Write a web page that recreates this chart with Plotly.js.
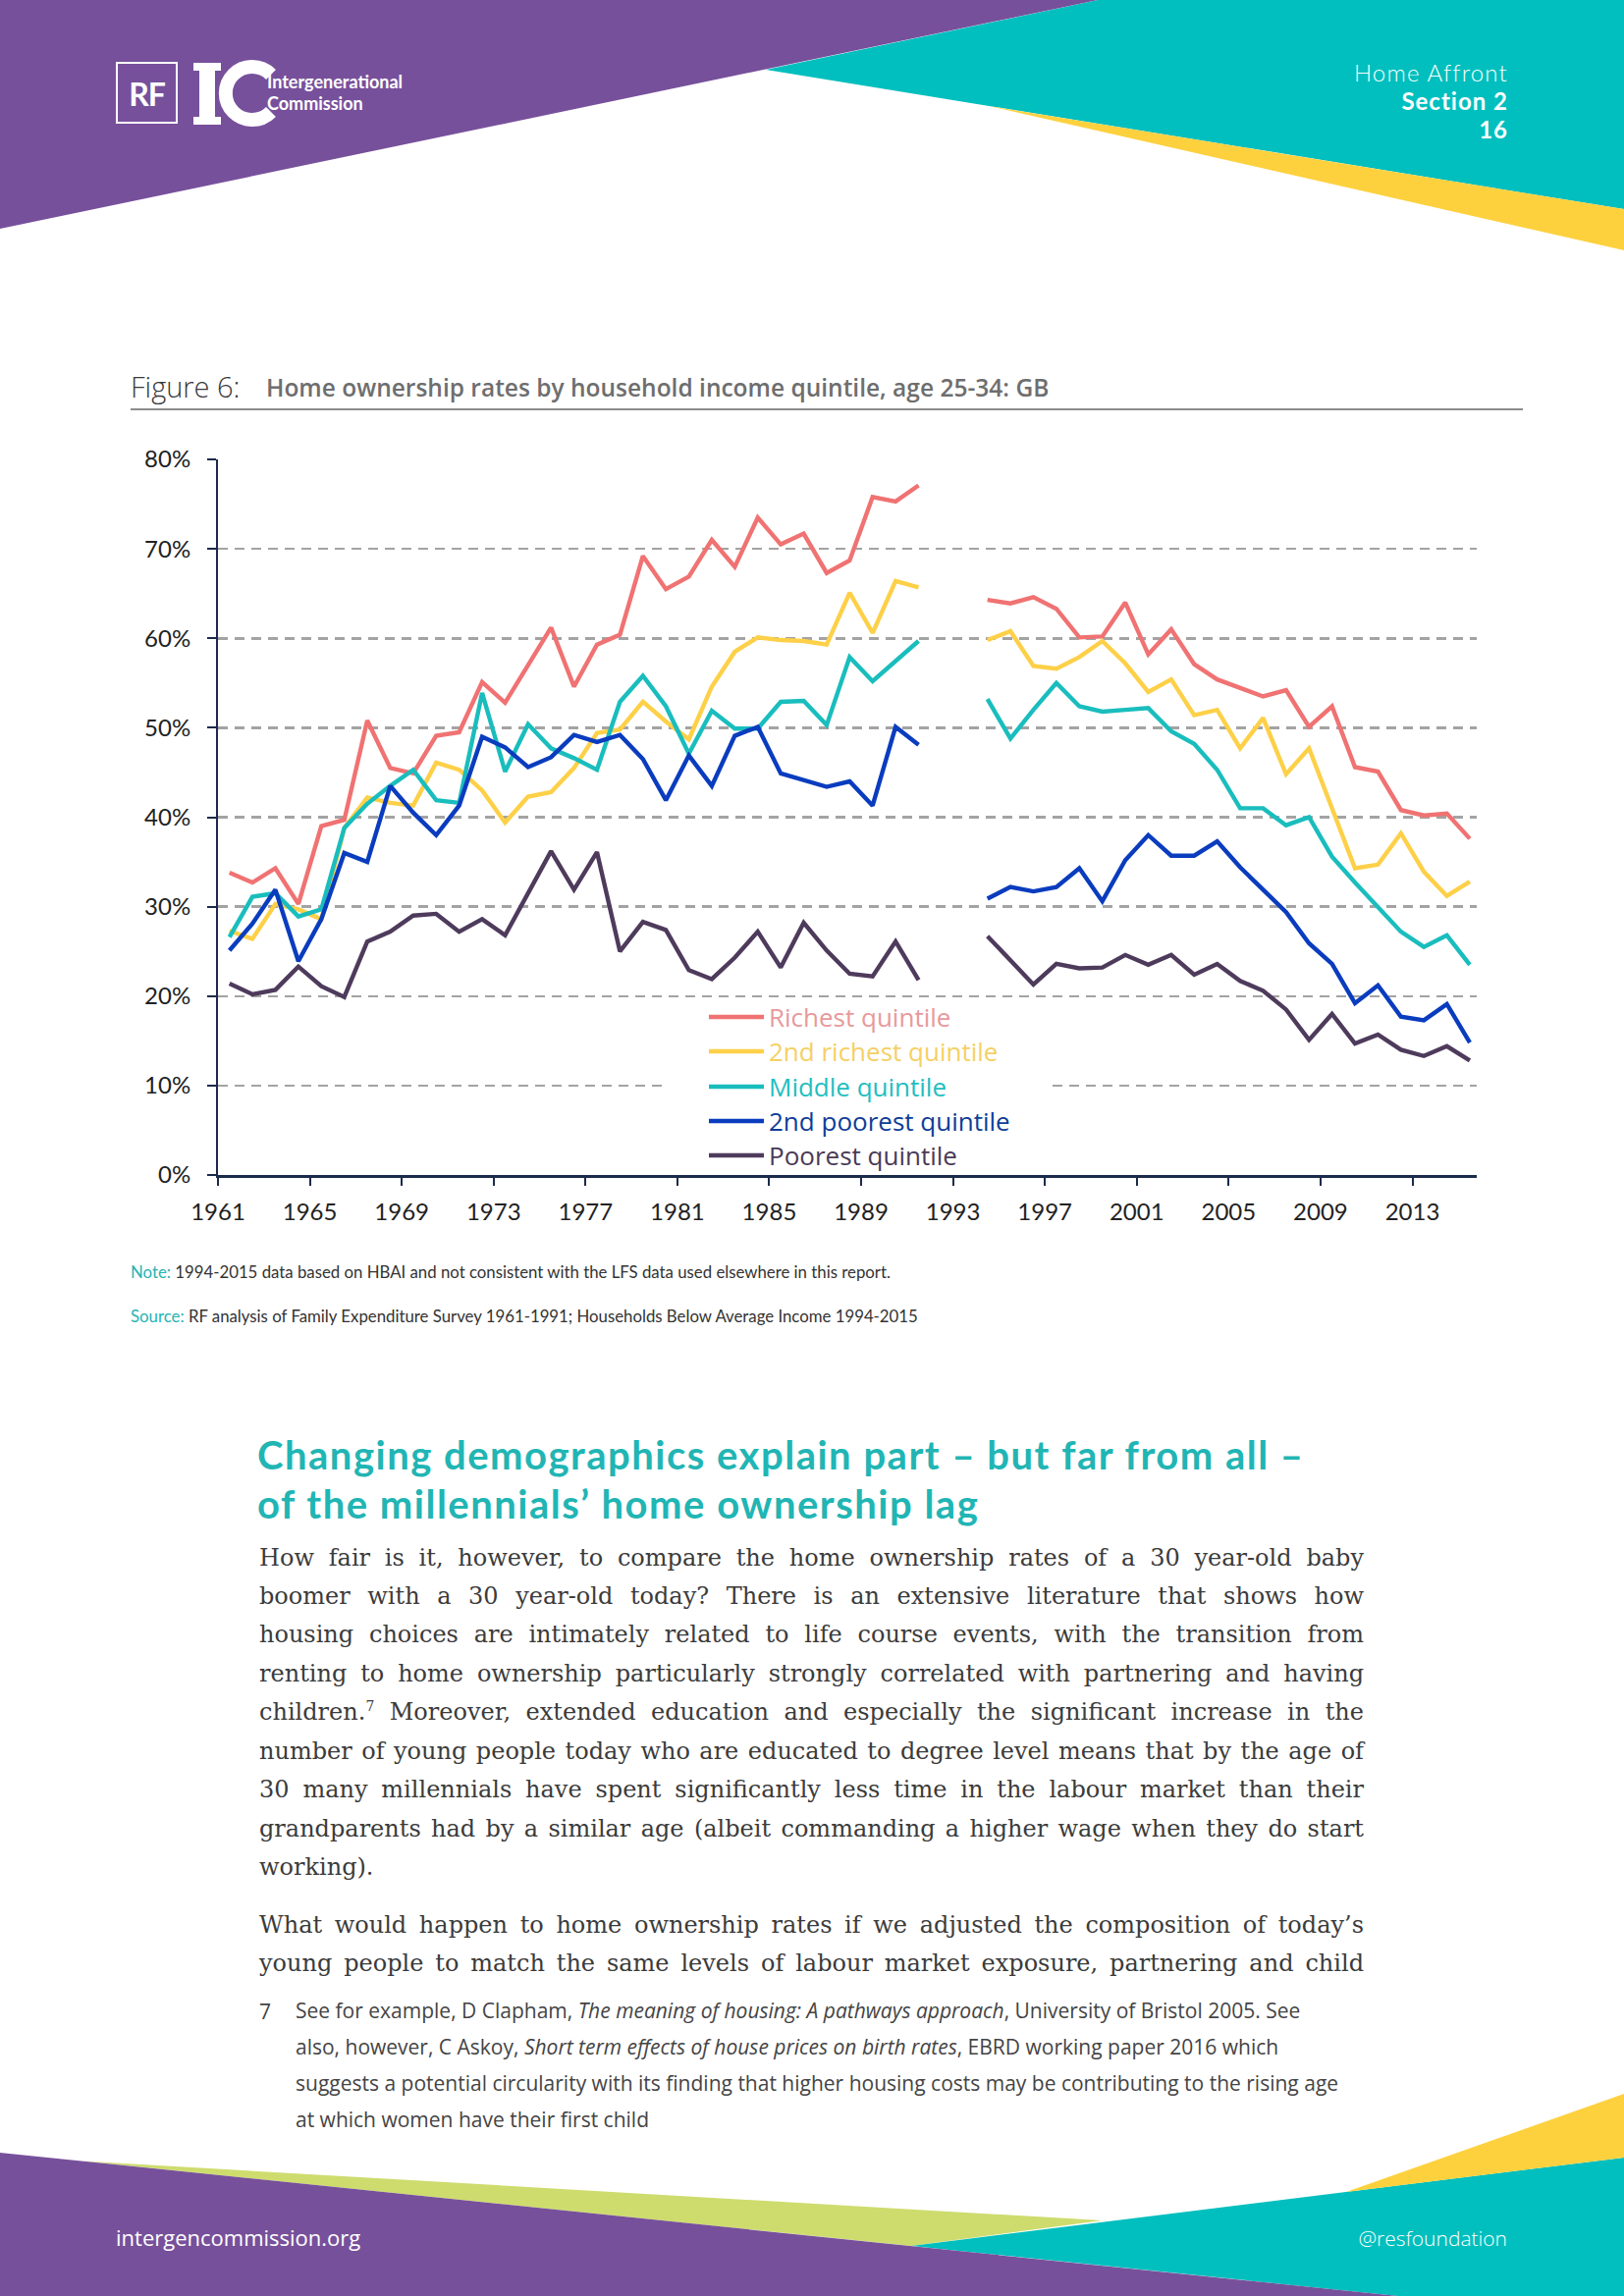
<!DOCTYPE html>
<html>
<head>
<meta charset="utf-8">
<script src="https://cdn.plot.ly/plotly-3.0.1.min.js"></script>
<style>
  html, body { margin:0; padding:0; background:#fff; }
  #page { position:relative; width:1654px; height:2339px; overflow:hidden; background:#fff; font-family:"Open Sans", Lato, sans-serif; }
  .abs { position:absolute; white-space:nowrap; }
  .body-line { position:absolute; left:264px; width:1125px; font-family:"DejaVu Serif", serif; font-size:24px; color:#3b3b3b; line-height:39px; text-align:justify; text-align-last:justify; white-space:nowrap; }
  .body-line.last { text-align-last:left; }
  .fn-line { position:absolute; left:301px; font-family:"Open Sans", sans-serif; font-size:21px; color:#444; line-height:37px; white-space:nowrap; }
  #chart { position:absolute; left:0; top:430px; width:1654px; height:850px; }
</style>
</head>
<body>
<div id="page">
  <svg class="abs" style="left:0;top:0" width="1654" height="2339" xmlns="http://www.w3.org/2000/svg">
    <!-- header shapes -->
    <polygon points="780,71 1118,0 1654,0 1654,213" fill="#00BFBE"/>
    <polygon points="1007,108 1654,213 1654,255" fill="#FDD13E"/>
    <polygon points="0,0 1118,0 0,233" fill="#77509B"/>
    <!-- logo -->
    <rect x="119" y="64" width="61" height="61" fill="none" stroke="#fff" stroke-width="2"/>
    <text x="149.5" y="108" text-anchor="middle" font-family="Lato, sans-serif" font-weight="bold" font-size="32" fill="#fff" letter-spacing="-1">RF</text>
    <rect x="203" y="64" width="16" height="63" fill="#fff"/>
    <rect x="197" y="64" width="28" height="8" fill="#fff"/>
    <rect x="197" y="119" width="28" height="8" fill="#fff"/>
    <path d="M 276 76 A 27 27 0 1 0 276 114" fill="none" stroke="#fff" stroke-width="14"/>
    <text x="272" y="90" font-family="Lato, sans-serif" font-weight="bold" font-size="18" fill="#fff">Intergenerational</text>
    <text x="272" y="112" font-family="Lato, sans-serif" font-weight="bold" font-size="18" fill="#fff">Commission</text>
    <!-- header right -->
    <text x="1536" y="83" text-anchor="end" font-family="Lato, sans-serif" font-weight="300" font-size="24" letter-spacing="1.2" fill="#fff">Home Affront</text>
    <text x="1536" y="112" text-anchor="end" font-family="Lato, sans-serif" font-weight="bold" font-size="24" letter-spacing="1" fill="#fff">Section 2</text>
    <text x="1536" y="141" text-anchor="end" font-family="Lato, sans-serif" font-weight="bold" font-size="24" letter-spacing="1" fill="#fff">16</text>
    <!-- figure title -->
    <text x="133" y="405" font-family="Open Sans, sans-serif" font-weight="300" font-size="29" fill="#3a3a3a">Figure 6:</text>
    <text x="271" y="404" font-family="Open Sans, sans-serif" font-weight="600" font-size="24.5" fill="#6e6e6e">Home ownership rates by household income quintile, age 25-34: GB</text>
    <rect x="133" y="416" width="1418" height="2" fill="#8c8c8c"/>
    <!-- note / source -->
    <text x="133" y="1302" font-family="Lato, sans-serif" font-size="16.8" fill="#333"><tspan fill="#27B3B3">Note:</tspan> 1994-2015 data based on HBAI and not consistent with the LFS data used elsewhere in this report.</text>
    <text x="133" y="1347" font-family="Lato, sans-serif" font-size="16.8" fill="#333"><tspan fill="#27B3B3">Source:</tspan> RF analysis of Family Expenditure Survey 1961-1991; Households Below Average Income 1994-2015</text>
    <!-- heading -->
    <text x="262" y="1497" font-family="Lato, sans-serif" font-weight="bold" font-size="40" letter-spacing="1.5" fill="#21B5B4">Changing demographics explain part – but far from all –</text>
    <text x="262" y="1547" font-family="Lato, sans-serif" font-weight="bold" font-size="40" letter-spacing="1.5" fill="#21B5B4">of the millennials’ home ownership lag</text>
    <!-- footnote number -->
    <text x="264" y="2057" font-family="Open Sans, sans-serif" font-size="21" fill="#444">7</text>
    <!-- footer shapes -->
    <polygon points="84,2201.6 1123,2262 928,2288" fill="#CEDC6E"/>
    <polygon points="928,2288 1654,2198 1654,2339 1424,2339" fill="#00BFBE"/>
    <polygon points="1371,2233 1654,2133 1654,2198" fill="#FDD13E"/>
    <polygon points="0,2193 1424,2339 0,2339" fill="#77509B"/>
    <text x="118" y="2288" font-family="Open Sans, sans-serif" font-size="22" fill="#fff">intergencommission.org</text>
    <text x="1535" y="2288" text-anchor="end" font-family="Open Sans, sans-serif" font-weight="300" font-size="21" fill="#fff">@resfoundation</text>
  </svg>

  <div id="chart"></div>

  <div class="body-line" style="top:1568px">How fair is it, however, to compare the home ownership rates of a 30 year-old baby</div>
  <div class="body-line" style="top:1607px">boomer with a 30 year-old today? There is an extensive literature that shows how</div>
  <div class="body-line" style="top:1646px">housing choices are intimately related to life course events, with the transition from</div>
  <div class="body-line" style="top:1686px">renting to home ownership particularly strongly correlated with partnering and having</div>
  <div class="body-line" style="top:1725px">children.<sup style="font-size:14px;line-height:0">7</sup> Moreover, extended education and especially the significant increase in the</div>
  <div class="body-line" style="top:1765px">number of young people today who are educated to degree level means that by the age of</div>
  <div class="body-line" style="top:1804px">30 many millennials have spent significantly less time in the labour market than their</div>
  <div class="body-line" style="top:1844px">grandparents had by a similar age (albeit commanding a higher wage when they do start</div>
  <div class="body-line last" style="top:1883px">working).</div>
  <div class="body-line" style="top:1942px">What would happen to home ownership rates if we adjusted the composition of today’s</div>
  <div class="body-line" style="top:1981px">young people to match the same levels of labour market exposure, partnering and child</div>

  <div class="fn-line" style="top:2030px">See for example, D Clapham, <i>The meaning of housing: A pathways approach</i>, University of Bristol 2005. See</div>
  <div class="fn-line" style="top:2067px">also, however, C Askoy, <i>Short term effects of house prices on birth rates</i>, EBRD working paper 2016 which</div>
  <div class="fn-line" style="top:2104px">suggests a potential circularity with its finding that higher housing costs may be contributing to the rising age</div>
  <div class="fn-line" style="top:2141px">at which women have their first child</div>
</div>

<script>
// ---- data ----
const years = [1961,1962,1963,1964,1965,1966,1967,1968,1969,1970,1971,1972,1973,1974,1975,1976,1977,1978,1979,1980,
               1981,1982,1983,1984,1985,1986,1987,1988,1989,1990,1991,1992,1993,1994,1995,1996,1997,1998,1999,2000,
               2001,2002,2003,2004,2005,2006,2007,2008,2009,2010,2011,2012,2013,2014,2015];

const richest = [33.8,32.7,34.3,30.3,39.0,39.7,50.8,45.5,44.9,49.1,49.5,55.1,52.8,57.0,61.2,54.6,59.3,60.4,69.2,65.5,
                 66.9,71.0,68.0,73.5,70.5,71.7,67.3,68.7,75.8,75.3,77.1,null,null,
                 64.3,63.9,64.6,63.3,60.1,60.2,64.0,58.2,61.0,57.1,55.4,54.4,53.5,54.2,50.1,52.4,45.6,45.1,40.8,40.2,40.4,37.6];
const secondRichest = [27.3,26.4,30.3,29.7,28.6,38.8,42.2,41.6,41.3,46.1,45.3,43.0,39.4,42.3,42.8,45.5,49.4,49.8,52.9,50.7,
                 48.7,54.6,58.5,60.1,59.8,59.7,59.3,65.1,60.6,66.4,65.7,null,null,
                 59.8,60.8,56.9,56.6,57.9,59.7,57.2,54.0,55.4,51.4,52.0,47.7,51.1,44.8,47.7,41.0,34.3,34.7,38.2,33.9,31.2,32.8];
const middle = [26.6,31.1,31.5,28.9,29.7,38.8,41.5,43.5,45.3,41.9,41.6,53.9,45.1,50.4,47.7,46.6,45.3,52.9,55.8,52.4,
                 47.1,51.9,49.9,49.9,52.9,53.0,50.3,57.9,55.2,57.5,59.7,null,null,
                 53.2,48.8,52.0,55.0,52.4,51.8,52.0,52.2,49.6,48.2,45.3,41.0,41.0,39.1,40.0,35.6,32.7,30.0,27.2,25.5,26.8,23.5];
const secondPoorest = [25.1,28.1,31.9,23.9,28.6,36.0,35.0,43.5,40.5,38.0,41.3,49.0,47.8,45.6,46.7,49.2,48.4,49.2,46.5,41.9,
                 46.9,43.5,49.1,50.1,44.9,44.1,43.4,44.0,41.3,50.1,48.1,null,null,
                 30.9,32.2,31.7,32.2,34.3,30.6,35.2,38.0,35.7,35.7,37.3,34.4,31.9,29.4,25.9,23.6,19.2,21.2,17.7,17.3,19.1,14.8];
const poorest = [21.4,20.2,20.7,23.3,21.1,19.9,26.1,27.2,29.0,29.2,27.2,28.6,26.8,31.5,36.2,31.9,36.1,25.0,28.3,27.4,
                 22.9,21.9,24.3,27.2,23.2,28.2,25.1,22.5,22.2,26.1,21.8,null,null,
                 26.7,24.0,21.3,23.6,23.1,23.2,24.6,23.5,24.6,22.4,23.6,21.7,20.6,18.5,15.1,18.0,14.7,15.7,14.0,13.3,14.4,12.8];

const seriesNames = ["Richest quintile","2nd richest quintile","Middle quintile","2nd poorest quintile","Poorest quintile"];
const tickYears = [1961,1965,1969,1973,1977,1981,1985,1989,1993,1997,2001,2005,2009,2013];
const yTicks = [0,10,20,30,40,50,60,70,80];

// ---- styles ----
const lineColors = ["#F07272","#FDD048","#1ABDBD","#0A3CBE","#4E3B5C"];
const legendTextColors = ["#E8999B","#F5D064","#22BEBF","#0E3D96","#4B3A57"];

const seriesValues = [richest, secondRichest, middle, secondPoorest, poorest];
const traces = seriesValues.map((vals, i) => ({
  x: years, y: vals, type: "scatter", mode: "lines", name: seriesNames[i],
  line: { color: lineColors[i], width: 4.4, shape: "linear" },
  connectgaps: false, hoverinfo: "skip", showlegend: false
}));

// plot-area pixel helpers for the hand-placed legend (layout only)
const PL = 222, PR = 1504, PT = 468, PB = 1197;
const px = p => (p - PL) / (PR - PL);
const py = p => (PB - p) / (PB - PT);

const legendRows = [1036, 1071, 1107, 1142, 1177];
const shapes = [{
  type: "rect", xref: "paper", yref: "paper", layer: "above",
  x0: px(680), x1: px(1070), y0: py(1192), y1: py(1022),
  fillcolor: "#ffffff", line: { width: 0 }
}];
const annotations = [];
seriesNames.forEach((n, i) => {
  shapes.push({ type: "line", xref: "paper", yref: "paper", layer: "above",
    x0: px(722), x1: px(778), y0: py(legendRows[i]), y1: py(legendRows[i]),
    line: { color: lineColors[i], width: 4.4 } });
  annotations.push({ xref: "paper", yref: "paper", x: px(781), y: py(legendRows[i]),
    xanchor: "left", yanchor: "middle", showarrow: false, text: n,
    font: { family: "Open Sans, sans-serif", size: 26, color: legendTextColors[i] } });
});

const layout = {
  width: 1654, height: 850,
  margin: { l: PL, r: 1654 - PR, t: PT - 430, b: 430 + 850 - PB },
  paper_bgcolor: "rgba(0,0,0,0)", plot_bgcolor: "rgba(0,0,0,0)",
  showlegend: false,
  font: { family: "Lato, sans-serif", size: 24, color: "#222" },
  xaxis: {
    range: [1960.5, 2015.3], tickvals: tickYears.map(y => y - 0.5), ticktext: tickYears.map(String),
    showgrid: false, zeroline: false, showline: true, linecolor: "#1c2b4b", linewidth: 3,
    ticks: "outside", ticklen: 8, tickwidth: 2, tickcolor: "#1c2b4b", ticklabelstandoff: 6,
    tickfont: { family: "Lato, sans-serif", size: 24, color: "#222" }, fixedrange: true
  },
  yaxis: {
    range: [0, 80], tickvals: yTicks, ticktext: yTicks.map(v => v + "%"),
    showgrid: true, gridcolor: "#a3a3a3", gridwidth: 2.5, griddash: "10px,7px",
    zeroline: false, showline: true, linecolor: "#1c2b4b", linewidth: 2,
    ticks: "outside", ticklen: 9, tickwidth: 2, tickcolor: "#1c2b4b", ticklabelstandoff: 12,
    tickfont: { family: "Lato, sans-serif", size: 24, color: "#222" }, fixedrange: true
  },
  shapes: shapes,
  annotations: annotations
};

Plotly.newPlot("chart", traces, layout, { staticPlot: true, displayModeBar: false });
</script>
</body>
</html>
